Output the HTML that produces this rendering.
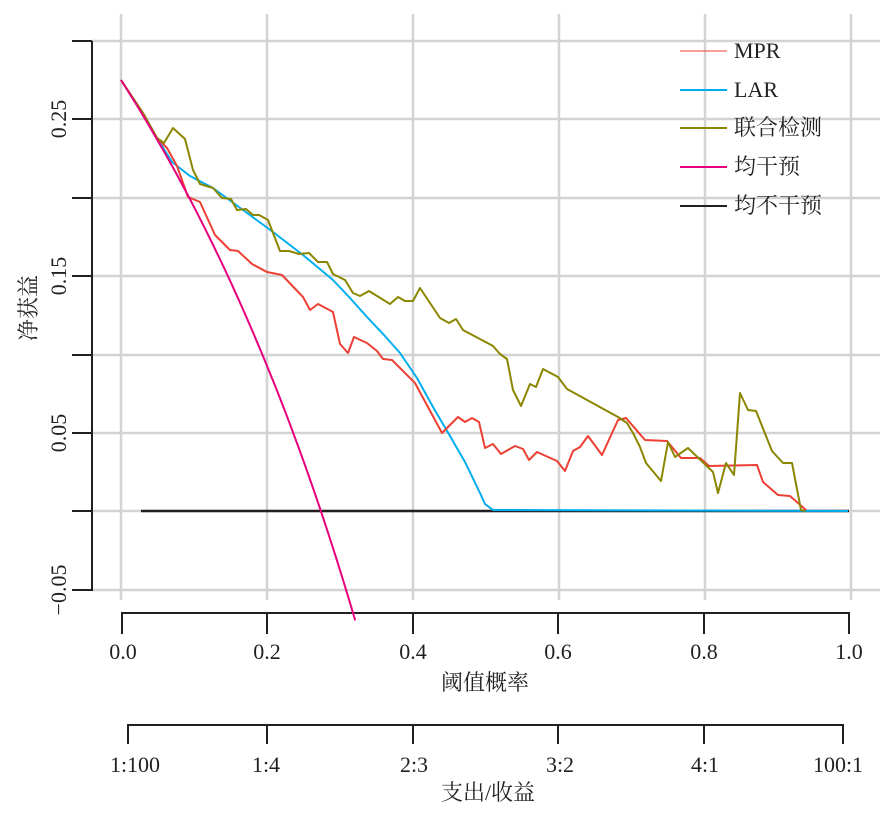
<!DOCTYPE html>
<html><head><meta charset="utf-8"><style>
html,body{margin:0;padding:0;background:#fff;}
svg{display:block;font-family:"Liberation Serif","Noto Serif CJK SC",serif;}
</style></head><body>
<svg id="s" width="887" height="814" viewBox="0 0 887 814" xmlns="http://www.w3.org/2000/svg">
<g stroke="#d3d3d3" stroke-width="2.5" fill="none">
<line x1="121" y1="14" x2="121" y2="600"/><line x1="267" y1="14" x2="267" y2="600"/>
<line x1="413" y1="14" x2="413" y2="600"/><line x1="559" y1="14" x2="559" y2="600"/>
<line x1="705" y1="14" x2="705" y2="600"/><line x1="851" y1="14" x2="851" y2="600"/>
<line x1="92" y1="41" x2="880" y2="41"/><line x1="92" y1="119" x2="880" y2="119"/>
<line x1="92" y1="198" x2="880" y2="198"/><line x1="92" y1="276" x2="880" y2="276"/>
<line x1="92" y1="355" x2="880" y2="355"/><line x1="92" y1="433" x2="880" y2="433"/>
<line x1="92" y1="511" x2="880" y2="511"/><line x1="92" y1="590" x2="880" y2="590"/>
</g>
<g stroke="#231f20" stroke-width="2" fill="none">
<line x1="92" y1="41" x2="92" y2="591"/>
<line x1="72" y1="41" x2="92" y2="41"/><line x1="72" y1="119" x2="92" y2="119"/>
<line x1="72" y1="198" x2="92" y2="198"/><line x1="72" y1="276" x2="92" y2="276"/>
<line x1="72" y1="355" x2="92" y2="355"/><line x1="72" y1="433" x2="92" y2="433"/>
<line x1="72" y1="511" x2="92" y2="511"/><line x1="72" y1="590" x2="92" y2="590"/>
<line x1="121" y1="613" x2="849" y2="613"/>
<line x1="122" y1="612" x2="122" y2="634"/><line x1="267" y1="612" x2="267" y2="634"/>
<line x1="413" y1="612" x2="413" y2="634"/><line x1="558" y1="612" x2="558" y2="634"/>
<line x1="704" y1="612" x2="704" y2="634"/><line x1="849" y1="612" x2="849" y2="634"/>
<line x1="128" y1="725" x2="843" y2="725"/>
<line x1="128" y1="724" x2="128" y2="744"/><line x1="267" y1="724" x2="267" y2="744"/>
<line x1="413" y1="724" x2="413" y2="744"/><line x1="558" y1="724" x2="558" y2="744"/>
<line x1="704" y1="724" x2="704" y2="744"/><line x1="843" y1="724" x2="843" y2="744"/>
</g>
<g font-size="22" fill="#231f20" text-anchor="middle">
<text transform="translate(66,119) rotate(-90)">0.25</text>
<text transform="translate(66,276) rotate(-90)">0.15</text>
<text transform="translate(66,433) rotate(-90)">0.05</text>
<text transform="translate(66,590) rotate(-90)">−0.05</text>
<text x="123" y="659">0.0</text><text x="267" y="659">0.2</text><text x="413" y="659">0.4</text>
<text x="558" y="659">0.6</text><text x="704" y="659">0.8</text><text x="849" y="659">1.0</text>
<text x="485" y="690">阈值概率</text>
<text x="135" y="772">1:100</text><text x="266" y="772">1:4</text><text x="414" y="772">2:3</text>
<text x="560" y="772">3:2</text><text x="705" y="772">4:1</text><text x="838" y="772">100:1</text>
<text x="488" y="800">支出/收益</text>
<text transform="translate(36,308) rotate(-90)">净获益</text>
</g>
<g fill="none" stroke-width="2" stroke-linejoin="round">
<line x1="141" y1="511" x2="849" y2="511" stroke="#231f20" stroke-width="2.5"/>
<polyline stroke="#00aeef" points="143,113 157,138 172,162 190,176 213,188 243,210 273,232 303,255 333,280 350,298 367,317 384,335 400,353 417,378 433,407 450,436 465,462 480,493 485,504 493,510 848,511"/>
<polyline stroke="#ed4035" points="121,80 143,113 157,138 167,148 177,166 188,197 200,202 215,235 230,250 238,251 252,264 267,272 282,275 303,297 310,310 318,304 333,312 340,344 348,353 354,337 367,343 377,351 383,359 392,360 415,383 442,433 458,417 465,422 472,418 479,422 485,448 493,444 501,454 515,446 523,449 529,460 537,452 557,461 565,471 573,451 580,447 588,436 602,455 618,420 626,418 645,440 667,441 681,458 700,458 709,466 757,465 763,482 778,495 790,496 806,510"/>
<polyline stroke="#8b8600" points="121,80 143,113 157,138 164,143 173,128 185,139 193,170 200,184 213,188 222,198 231,199 237,210 246,209 253,215 259,215 268,220 280,251 289,251 299,254 309,253 318,262 327,262 333,274 345,280 353,293 360,296 369,291 390,304 398,297 405,301 413,301 420,288 440,318 449,323 456,319 463,330 493,346 500,354 507,359 513,390 521,406 530,384 536,387 543,369 558,377 567,389 618,417 627,423 633,433 640,447 646,463 661,481 668,442 675,457 688,448 713,472 718,493 726,463 734,475 740,393 748,410 756,411 772,451 783,463 792,463 801,510 805,511"/>
<polyline id="pk" stroke="#e6007e" points=""/>
</g>
<g stroke-width="2">
<line x1="680" y1="51" x2="727" y2="51" stroke="#ed4035" stroke-width="1"/>
<line x1="680" y1="90" x2="727" y2="90" stroke="#00aeef"/>
<line x1="680" y1="128" x2="727" y2="128" stroke="#8b8600"/>
<line x1="680" y1="167" x2="727" y2="167" stroke="#e6007e"/>
<line x1="680" y1="206" x2="727" y2="206" stroke="#231f20"/>
</g>
<g font-size="22" fill="#231f20">
<text x="734" y="58">MPR</text><text x="734" y="97">LAR</text>
<text x="734" y="135">联合检测</text><text x="734" y="174">均干预</text><text x="734" y="213">均不干预</text>
</g>
</svg>
<script>
var p=0.2745,pts=[];
for(var i=0;i<=80;i++){var t=i*0.33/80;var nb=p-(1-p)*t/(1-t);var x=121+728*t,y=511-nb*1570;pts.push(x.toFixed(1)+","+y.toFixed(1));if(y>=611)break;}
document.getElementById("pk").setAttribute("points",pts.join(" "));
</script>
</body></html>
